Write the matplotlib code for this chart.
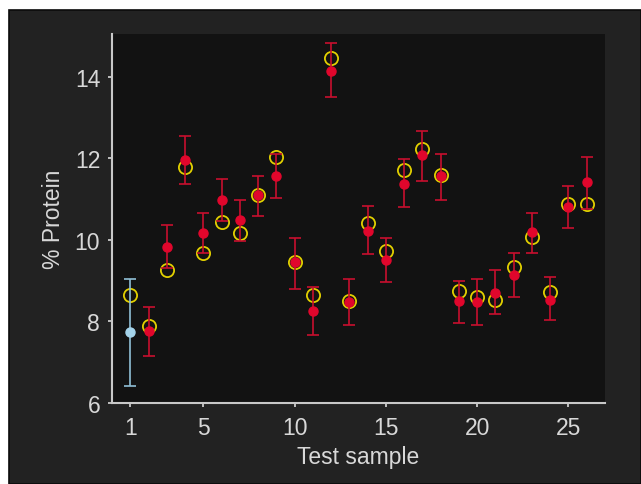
import numpy as np
import matplotlib
matplotlib.use("Agg")
import matplotlib.pyplot as plt
from matplotlib.patches import Rectangle

# test sample numbers 1..26
samples = list(range(1, 27))

# reference values (open yellow circles)
reference = [8.65, 7.90, 9.26, 11.78, 9.69, 10.44, 10.16, 11.10, 12.04, 9.45,
             8.65, 14.45, 8.51, 10.41, 9.72, 11.71, 12.23, 11.60, 8.75, 8.61,
             8.53, 9.34, 10.08, 8.73, 10.89, 10.88]

# predicted values (filled dots) with interval bounds
predicted = [7.75, 7.77, 9.83, 11.96, 10.16, 10.98, 10.48, 11.10, 11.56, 9.45,
             8.25, 14.15, 8.48, 10.22, 9.51, 11.38, 12.08, 11.57, 8.51, 8.47,
             8.71, 9.15, 10.20, 8.53, 10.81, 11.42]
upper = [9.04, 8.36, 10.37, 12.54, 10.66, 11.49, 10.98, 11.56, 12.10, 10.04,
         8.84, 14.84, 9.04, 10.84, 10.04, 11.99, 12.67, 12.10, 9.00, 9.04,
         9.26, 9.69, 10.66, 9.08, 11.31, 12.04]
lower = [6.41, 7.16, 9.30, 11.38, 9.69, 10.47, 9.97, 10.58, 11.02, 8.79,
         7.67, 13.50, 7.92, 9.65, 8.97, 10.80, 11.45, 10.98, 7.96, 7.92,
         8.18, 8.61, 9.68, 8.03, 10.30, 10.75]

fig_bg = "#222222"
ax_bg = "#121212"
fg = "#d8d8d8"
red = "#e1062c"
red_bar = "#c80f2e"
blue = "#a4d3ea"
blue_bar = "#8fbfd6"
yellow = "#e2d000"
fonts = ["Liberation Sans", "DejaVu Sans"]

x = np.array(samples)
ref = np.array(reference)
pred = np.array(predicted)
err = np.vstack([pred - np.array(lower), np.array(upper) - pred])

fig = plt.figure(figsize=(6.41, 4.85), dpi=100, facecolor="white")
fig.patches.append(Rectangle((9 / 641, 0), 1 - 9 / 641, 1 - 11 / 485,
                             transform=fig.transFigure, facecolor=fig_bg,
                             edgecolor="#0a0a0a", linewidth=1.2, zorder=-10))

ax = fig.add_axes([112 / 641, 81 / 485, 493 / 641, 369 / 485])
ax.set_facecolor(ax_bg)

ax.plot(x, ref, "o", mfc="none", mec=yellow, ms=9.5, mew=1.3, zorder=2)

# first sample drawn in blue, the rest in red
ax.errorbar(x[:1], pred[:1], yerr=err[:, :1], fmt="o", color=blue, ecolor=blue_bar,
            ms=6.5, elinewidth=1.2, capsize=4, capthick=1.2, zorder=3)
ax.errorbar(x[1:], pred[1:], yerr=err[:, 1:], fmt="o", color=red, ecolor=red_bar,
            ms=6.5, elinewidth=1.2, capsize=4, capthick=1.2, zorder=3)

ax.set_xlim(0, 27)
ax.set_ylim(6, 15.05)
ax.set_xticks([1, 5, 10, 15, 20, 25])
ax.set_yticks([6, 8, 10, 12, 14])

for side in ["top", "right"]:
    ax.spines[side].set_visible(False)
for side in ["left", "bottom"]:
    ax.spines[side].set_color("#c8c8c8")
    ax.spines[side].set_linewidth(1.5)

ax.tick_params(colors=fg, labelcolor=fg, length=3, width=1.2, direction="out",
               labelsize=16.5)
ax.tick_params(axis="x", pad=6.5)
ax.tick_params(axis="y", pad=5.5)
for lab in ax.get_xticklabels() + ax.get_yticklabels():
    lab.set_family(fonts)

ax.set_xlabel("Test sample", color=fg, fontsize=16.5, family=fonts, labelpad=4)
ax.set_ylabel("% Protein", color=fg, fontsize=16.5, family=fonts, labelpad=7)

fig.savefig("out.png", dpi=100, facecolor=fig.get_facecolor())
